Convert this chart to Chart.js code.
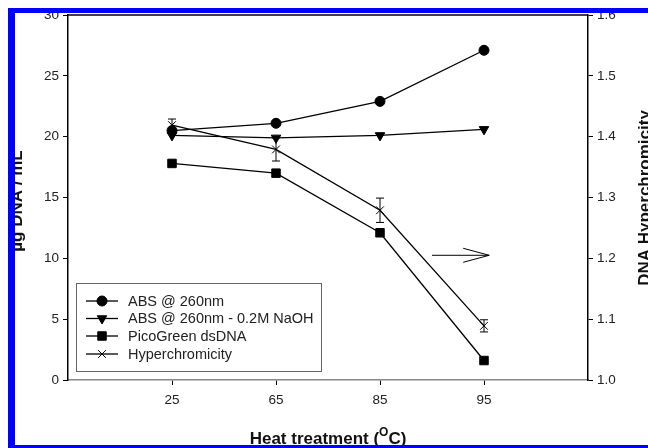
<!DOCTYPE html>
<html><head><meta charset="utf-8">
<script src="https://cdn.jsdelivr.net/npm/chart.js@4/dist/chart.umd.min.js"></script>
<style>
html,body{margin:0;padding:0;width:648px;height:448px;overflow:hidden;background:#fff;}
#wrap{position:relative;width:648px;height:448px;}
#c{position:absolute;left:0;top:0;}
#frame{position:absolute;left:8px;top:8px;width:1000px;height:432px;border-left:7px solid #0000ff;border-top:5px solid #0000ff;border-bottom:6px solid #0000ff;pointer-events:none;}
</style></head><body>
<div id="wrap"><canvas id="c" width="648" height="448"></canvas><div id="frame"></div></div>
<script>
// ---- data ----
const categories = ['25', '65', '85', '95'];
const absValues = [20.5, 21.1, 22.9, 27.1];
const absNaohValues = [20.1, 19.9, 20.1, 20.6];
const picoValues = [17.8, 17.0, 12.1, 1.6];
const hyperValues = [1.419, 1.379, 1.279, 1.089];
const hyperErrors = [0.010, 0.019, 0.020, 0.010];
const leftTicks = [0, 5, 10, 15, 20, 25, 30];
const rightTicks = [1.0, 1.1, 1.2, 1.3, 1.4, 1.5, 1.6];
const seriesLabels = ['ABS @ 260nm', 'ABS @ 260nm - 0.2M NaOH', 'PicoGreen dsDNA', 'Hyperchromicity'];
const xTitle = ['Heat treatment (', 'O', 'C)'];
const yTitle = 'µg DNA / mL';
const y1Title = 'DNA Hyperchromicity';
const arrowFrom = {x: 3.5, y: 1.205};
const arrowTo = {x: 4.05, y: 1.205};

const FONT = '"Liberation Sans", Arial, sans-serif';
const toPts = arr => arr.map((v, i) => ({x: i + 1, y: v}));

const styles = [
  {pointStyle: 'circle', pointRadius: 5, rotation: 0},
  {pointStyle: 'triangle', pointRadius: 5.5, rotation: 180},
  {pointStyle: 'rect', pointRadius: 6, rotation: 0},
  {pointStyle: 'crossRot', pointRadius: 5.5, rotation: 0}
];

function mkDs(i, data, axis) {
  return {
    label: seriesLabels[i], data: toPts(data), yAxisID: axis,
    borderColor: '#000', backgroundColor: '#000', borderWidth: 1.3,
    pointStyle: styles[i].pointStyle, pointRadius: styles[i].pointRadius,
    pointRotation: styles[i].rotation, pointBorderWidth: 1,
    pointBackgroundColor: '#000', pointBorderColor: '#000', tension: 0, fill: false
  };
}

const decor = {
  id: 'decor',
  afterDatasetsDraw(chart) {
    const ctx = chart.ctx, ca = chart.chartArea;
    const xs = chart.scales.x, y1 = chart.scales.y1;
    ctx.save();
    // top frame line
    ctx.strokeStyle = '#000'; ctx.lineWidth = 1.5;
    ctx.beginPath(); ctx.moveTo(ca.left, ca.top); ctx.lineTo(ca.right, ca.top); ctx.stroke();
    // error bars
    ctx.lineWidth = 1; ctx.strokeStyle = '#000';
    hyperValues.forEach((v, i) => {
      const px = xs.getPixelForValue(i + 1);
      const t = y1.getPixelForValue(v + hyperErrors[i]);
      const b = y1.getPixelForValue(v - hyperErrors[i]);
      ctx.beginPath();
      ctx.moveTo(px, t); ctx.lineTo(px, b);
      ctx.moveTo(px - 4, t); ctx.lineTo(px + 4, t);
      ctx.moveTo(px - 4, b); ctx.lineTo(px + 4, b);
      ctx.stroke();
    });
    // arrow
    const ax0 = xs.getPixelForValue(arrowFrom.x), ay = y1.getPixelForValue(arrowFrom.y);
    const ax1 = xs.getPixelForValue(arrowTo.x);
    ctx.lineWidth = 1;
    ctx.beginPath();
    ctx.moveTo(ax0, ay); ctx.lineTo(ax1, ay);
    ctx.moveTo(ax1 - 26, ay - 7); ctx.lineTo(ax1, ay); ctx.lineTo(ax1 - 26, ay + 7);
    ctx.stroke();
    ctx.restore();
  },
  afterDraw(chart) {
    const ctx = chart.ctx;
    ctx.save();
    // legend
    ctx.strokeStyle = '#666'; ctx.lineWidth = 1;
    ctx.strokeRect(76.5, 283.5, 245, 88);
    const rows = [301, 318.5, 336, 354];
    chart.data.datasets.forEach((ds, i) => {
      const y = rows[i];
      ctx.strokeStyle = '#000'; ctx.fillStyle = '#000'; ctx.lineWidth = 1.3;
      ctx.beginPath(); ctx.moveTo(86, y); ctx.lineTo(118, y); ctx.stroke();
      ctx.lineWidth = 1;
      Chart.helpers.drawPoint(ctx, {pointStyle: ds.pointStyle, radius: ds.pointRadius, rotation: ds.pointRotation, borderWidth: 1}, 102, y);
      ctx.fillStyle = '#222';
      ctx.font = '14.5px ' + FONT;
      ctx.textBaseline = 'middle'; ctx.textAlign = 'left';
      ctx.fillText(ds.label, 128, y + 0.5);
    });
    // titles
    ctx.fillStyle = '#111';
    ctx.textBaseline = 'alphabetic'; ctx.textAlign = 'center';
    ctx.font = 'bold 17px ' + FONT;
    ctx.save(); ctx.translate(21.5, 201); ctx.rotate(-Math.PI / 2); ctx.fillText(yTitle, 0, 0); ctx.restore();
    ctx.save(); ctx.translate(649.5, 198); ctx.rotate(-Math.PI / 2); ctx.fillText(y1Title, 0, 0); ctx.restore();
    // x title with superscript
    ctx.textAlign = 'left';
    const big = 'bold 17px ' + FONT, small = 'bold 12px ' + FONT;
    ctx.font = big; const w0 = ctx.measureText(xTitle[0]).width;
    ctx.font = small; const w1 = ctx.measureText(xTitle[1]).width;
    ctx.font = big; const w2 = ctx.measureText(xTitle[2]).width;
    const cx = (chart.chartArea.left + chart.chartArea.right) / 2;
    let x0 = cx - (w0 + w1 + w2) / 2;
    const by = 444;
    ctx.font = big; ctx.fillText(xTitle[0], x0, by);
    ctx.font = small; ctx.fillText(xTitle[1], x0 + w0, by - 8);
    ctx.font = big; ctx.fillText(xTitle[2], x0 + w0 + w1, by);
    ctx.restore();
  }
};

const tickFont = {family: FONT, size: 13.5};
new Chart(document.getElementById('c'), {
  type: 'line',
  data: {
    datasets: [
      mkDs(0, absValues, 'y'),
      mkDs(1, absNaohValues, 'y'),
      mkDs(2, picoValues, 'y'),
      mkDs(3, hyperValues, 'y1')
    ]
  },
  options: {
    responsive: false, animation: false, devicePixelRatio: 1,
    layout: {padding: {top: 15, left: 0, right: 0, bottom: 0}},
    plugins: {legend: {display: false}, tooltip: {enabled: false}},
    scales: {
      x: {
        type: 'linear', min: 0, max: 5,
        afterBuildTicks: s => { s.ticks = categories.map((c, i) => ({value: i + 1})); },
        afterFit: s => { s.height = 68; },
        ticks: {callback: v => categories[v - 1] ?? '', font: tickFont, color: '#222', padding: 7, maxRotation: 0, autoSkip: false},
        grid: {drawOnChartArea: false, drawTicks: true, tickLength: 5, color: '#000', tickWidth: 1},
        border: {display: true, color: '#888', width: 1.5}
      },
      y: {
        position: 'left', min: 0, max: 30,
        afterBuildTicks: s => { s.ticks = leftTicks.map(v => ({value: v})); },
        afterFit: s => { s.width = 68; },
        ticks: {font: tickFont, color: '#222', padding: 4, callback: v => String(v)},
        grid: {drawOnChartArea: false, drawTicks: true, tickLength: 5, color: '#000', tickWidth: 1},
        border: {display: true, color: '#000', width: 1.5}
      },
      y1: {
        position: 'right', min: 1.0, max: 1.6,
        afterBuildTicks: s => { s.ticks = rightTicks.map(v => ({value: v})); },
        afterFit: s => { s.width = 60; },
        ticks: {font: tickFont, color: '#222', padding: 4, callback: v => Number(v).toFixed(1)},
        grid: {drawOnChartArea: false, drawTicks: true, tickLength: 5, color: '#000', tickWidth: 1},
        border: {display: true, color: '#000', width: 1.5}
      }
    }
  },
  plugins: [decor]
});
</script>
</body></html>
